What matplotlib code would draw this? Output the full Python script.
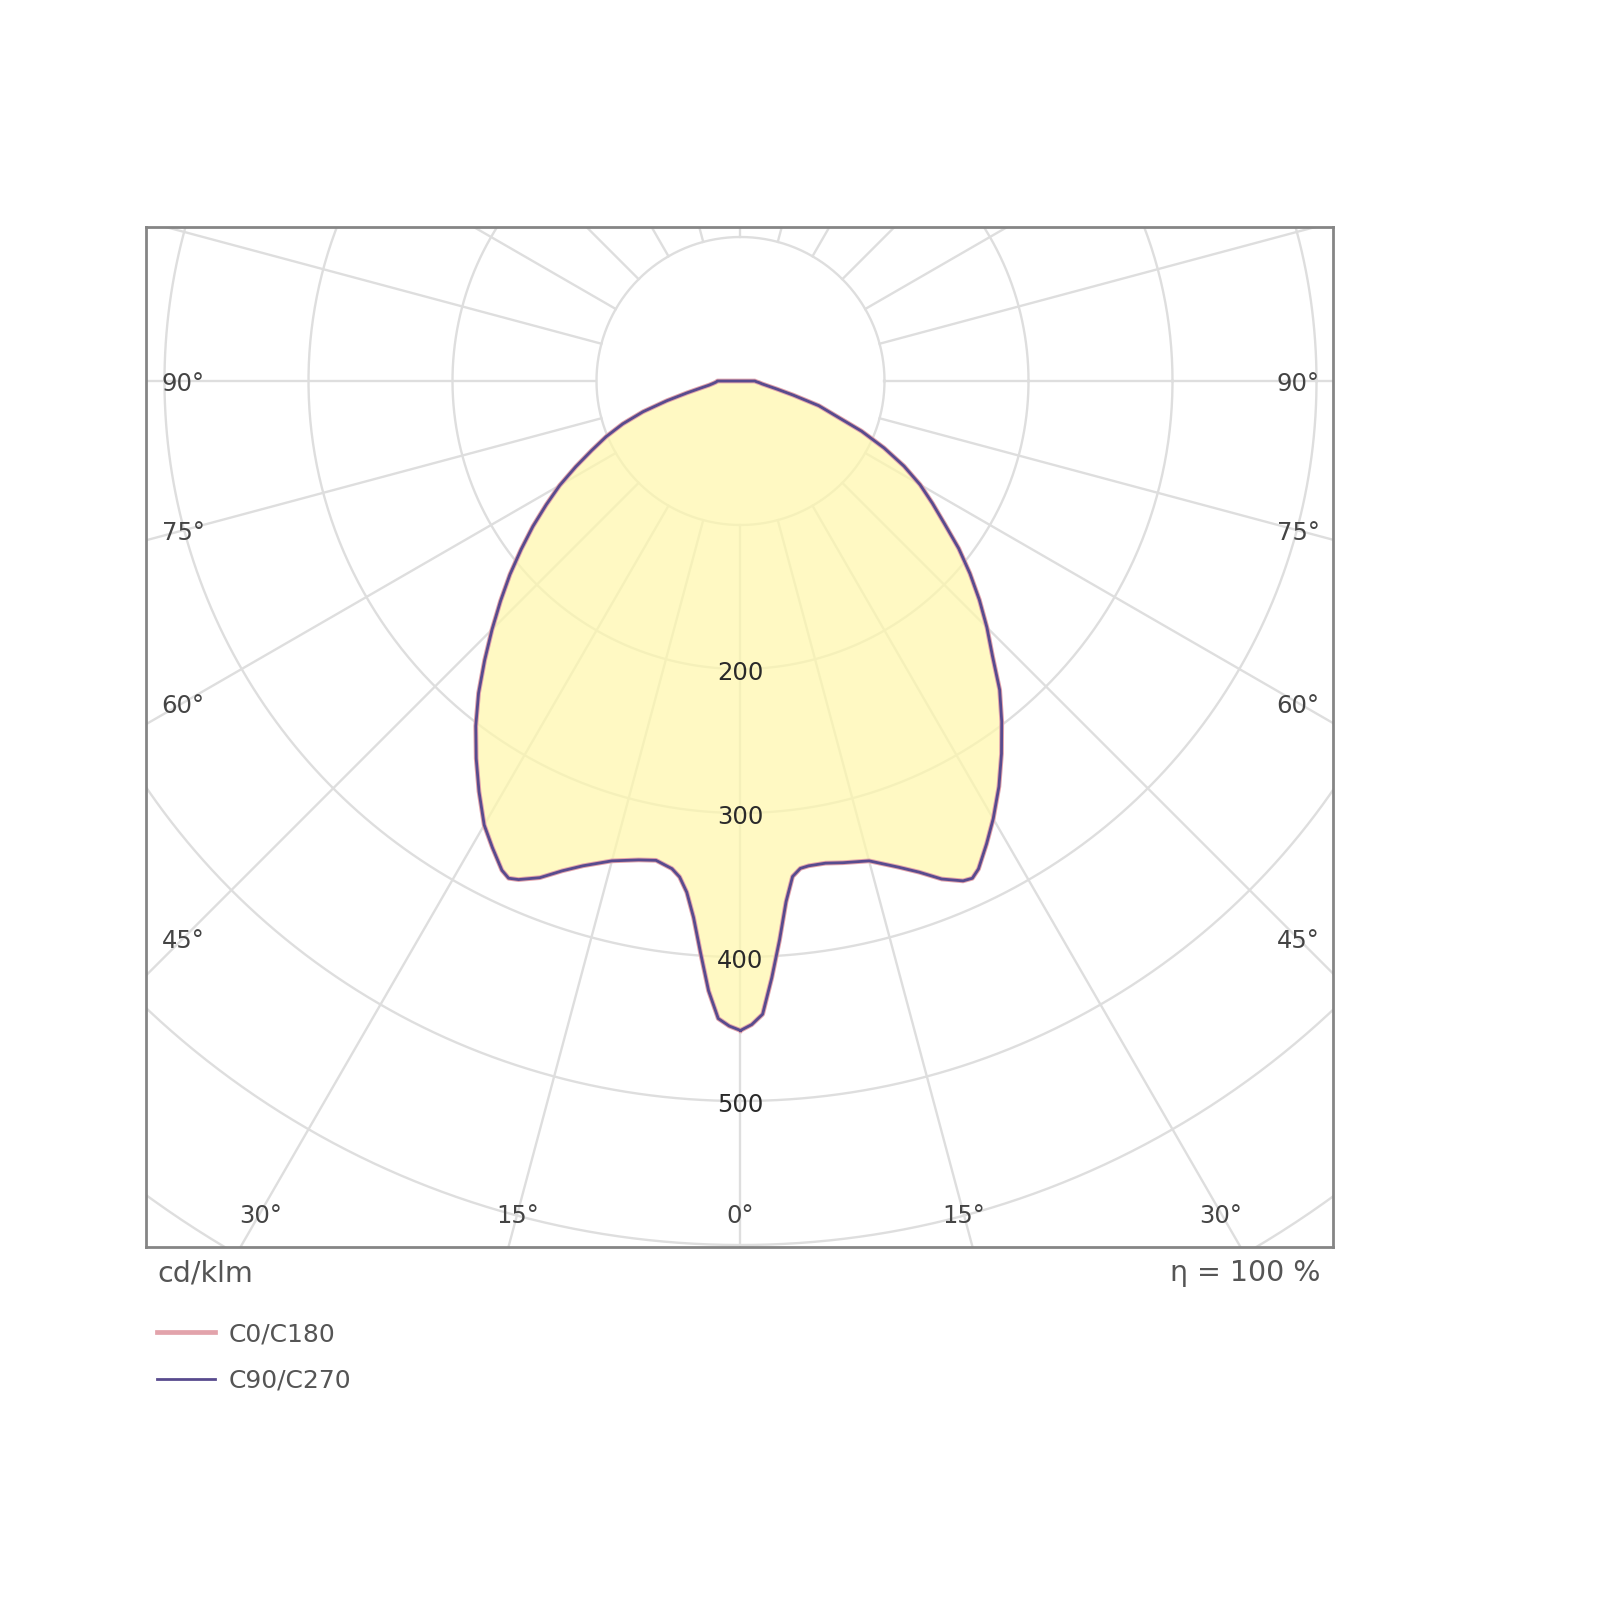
import numpy as np
import matplotlib
matplotlib.use("Agg")
import matplotlib.pyplot as plt

# ---------------- data (cd/klm) ----------------
gamma = [0, 1, 2, 3, 4, 5, 6, 7, 8, 10, 12, 15, 18, 20, 22, 24, 25, 26, 28, 30,
         32.5, 35, 37.5, 40, 42.5, 45, 47.5, 50, 52.5, 55, 57.5, 60, 62.5, 65,
         67.5, 70, 72.5, 75, 77.5, 80, 82.5, 85, 87.5, 90]
# right half of the diagram (C0 / C90)
c0 = [451, 447, 440, 415, 389, 363, 346, 341, 340, 340, 342, 345, 355, 363, 373, 380, 381, 377, 364, 351,
      334, 316, 298, 280, 259, 242, 225, 208, 191, 173, 158, 144, 128, 110,
      91, 70, 57, 38, 26, 19, 15, 13, 11, 10]
# left half of the diagram (C180 / C270)
c180 = [451, 448, 443, 424, 398, 374, 357, 347, 342, 338, 340, 345, 354, 362, 372, 379, 381, 378, 367, 356,
        338, 320, 302, 283, 263, 244, 226, 209, 192, 176, 160, 145, 129, 114,
        101, 87, 71, 53, 38, 28, 22, 19, 17, 16]
# C90/C270 coincides with C0/C180 in the reference
c90 = list(c0)
c270 = list(c180)

ring_values = [100, 200, 300, 400, 500, 600, 700, 800]
ring_labels = [200, 300, 400, 500]
angle_labels = [0, 15, 30, 45, 60, 75, 90]
series_names = ["C0/C180", "C90/C270"]

# ---------------- figure ----------------
W = H = 1600
fig = plt.figure(figsize=(16, 16), dpi=100)
fig.patch.set_facecolor("white")

cx, cy, s = 740.5, 381.0, 1.44      # pixel centre and px per cd/klm
bx0, bx1, by0, by1 = 146, 1333, 227, 1247
ax = fig.add_axes([bx0 / W, 1 - by1 / H, (bx1 - bx0) / W, (by1 - by0) / H])
ax.set_xlim((bx0 - cx) / s, (bx1 - cx) / s)
ax.set_ylim(-(by1 - cy) / s, (cy - by0) / s)
ax.set_xticks([]); ax.set_yticks([])
for sp in ax.spines.values():
    sp.set_color("#858585")
    sp.set_linewidth(2.0)
    sp.set_zorder(10)

grid_col = "#dedede"
t = np.linspace(0, 2 * np.pi, 720)
for r in ring_values:
    ax.plot(r * np.cos(t), r * np.sin(t), color=grid_col, lw=1.7, zorder=1)
for a in range(0, 360, 15):
    ar = np.radians(a)
    ax.plot([100 * np.sin(ar), 1400 * np.sin(ar)], [-100 * np.cos(ar), -1400 * np.cos(ar)],
            color=grid_col, lw=1.7, zorder=1)


def outline(right, left):
    g = np.radians(gamma)
    r_ = np.asarray(right, float)
    l_ = np.asarray(left, float)
    xr, yr = r_ * np.sin(g), -r_ * np.cos(g)
    xl, yl = -l_ * np.sin(g), -l_ * np.cos(g)
    x = np.concatenate([xr, xl[::-1], xr[:1]])
    y = np.concatenate([yr, yl[::-1], yr[:1]])
    return x, y


x1, y1 = outline(c0, c180)
x2, y2 = outline(c90, c270)
ax.fill(x1, y1, color="#fff8ac", alpha=0.72, lw=0, zorder=2)
l1, = ax.plot(x1, y1, color="#e2a3ab", lw=3.4, zorder=4, solid_joinstyle="round")
l2, = ax.plot(x2, y2, color="#584b8e", lw=2.0, zorder=5, solid_joinstyle="round")

# ring labels
for v in ring_labels:
    ax.text(0, -v - 3.0, str(v), ha="center", va="center", fontsize=17.5,
            color="#2a2a2a", zorder=6)

# angle labels along the radial lines, inset in the box
xin = (1298 - cx) / s
yin = (1213 - cy) / s
for a in angle_labels:
    ar = np.radians(a)
    sa, ca = np.sin(ar), np.cos(ar)
    tx = xin / sa if sa > 1e-9 else np.inf
    ty = yin / ca if ca > 1e-9 else np.inf
    tt = min(tx, ty)
    for side in ([1] if a == 0 else [-1, 1]):
        ax.text(side * tt * sa, -tt * ca - 2.0, f"{a}°", ha="center", va="center",
                fontsize=17.5, color="#444444", zorder=6)

# units and efficiency
fig.text(157 / W, 1 - 1273 / H, "cd/klm", ha="left", va="center", fontsize=20.5, color="#555555")
fig.text(1321 / W, 1 - 1273 / H, "η = 100 %", ha="right", va="center", fontsize=20.5, color="#555555")

# legend
fig.legend([l1, l2], series_names, loc="upper left", bbox_to_anchor=(157 / W, 1 - 1322 / H),
           frameon=False, fontsize=18, labelcolor="#555555", handlelength=2.3,
           handletextpad=0.55, borderpad=0, borderaxespad=0, labelspacing=0.9)

fig.savefig("out.png", dpi=100, facecolor="white")
